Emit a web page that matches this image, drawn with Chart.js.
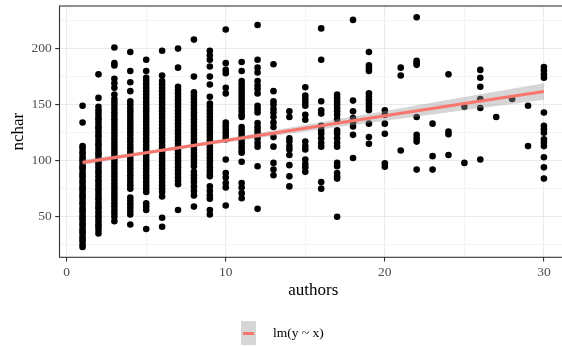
<!DOCTYPE html>
<html>
<head>
<meta charset="utf-8">
<script src="https://cdn.jsdelivr.net/npm/chart.js@4"></script>
<style>
  body { margin: 0; overflow: hidden; background: #fff; }
  #wrap { position: relative; width: 580px; height: 347px; }
  #legend { position: absolute; left: 241px; top: 321px; font-family: "Liberation Serif", serif; font-size: 13.5px; }
  #legend .key { position: absolute; left: 0; top: 0; width: 15px; height: 24px; background: #d6d6d6; }
  #legend .key span { position: absolute; left: 2px; top: 10.5px; width: 11px; height: 3px; background: #F8766D; }
  #legend .txt { position: absolute; left: 32px; top: 4px; white-space: nowrap; }
</style>
</head>
<body>
<div id="wrap">
  <canvas id="chart"></canvas>
  <div id="legend"><div class="key"><span></span></div><div class="txt">lm(y ~ x)</div></div>
</div>
<script>
// nombre d'auteurs (axe x)
const authors = [1, 2, 3, 4, 5, 6, 7, 8, 9, 10, 11, 12, 13, 14, 15, 16, 17, 18, 19, 20, 21, 22, 23, 24, 25, 26, 27, 28, 29, 30];

// nchar, une liste par nombre d'auteurs
const n01 = [149, 134, 113, 111, 108, 106, 103, 101, 99, 96, 94, 92, 89, 87, 85, 82, 80, 77, 75, 73, 70, 68, 66, 63, 61, 58, 56, 54, 51, 49, 47, 44, 42, 39, 37, 35, 32, 30, 28, 25, 23];
const n02 = [177, 156, 148, 145, 142, 139, 137, 134, 131, 129, 126, 123, 121, 118, 115, 113, 110, 107, 105, 102, 99, 97, 94, 91, 89, 86, 83, 81, 78, 75, 73, 70, 67, 65, 62, 59, 57, 54, 51, 49, 46, 43, 41, 38, 35];
const n03 = [201, 187, 185, 173, 169, 165, 159, 155, 152, 149, 146, 143, 140, 137, 134, 131, 128, 125, 122, 119, 116, 113, 110, 107, 104, 101, 98, 95, 92, 89, 86, 83, 80, 77, 74, 71, 68, 65, 62, 59, 56, 53, 50, 46];
const n04 = [197, 180, 170, 162, 153, 150, 147, 144, 141, 138, 135, 132, 129, 126, 123, 120, 117, 114, 111, 108, 105, 102, 99, 96, 93, 90, 87, 84, 81, 78, 75, 67, 64, 61, 58, 55, 52, 43];
const n05 = [190, 180, 174, 171, 168, 165, 162, 159, 156, 153, 150, 147, 144, 141, 138, 135, 132, 129, 126, 123, 120, 117, 114, 111, 108, 105, 102, 99, 96, 93, 90, 87, 84, 81, 78, 75, 72, 62, 59, 56, 39];
const n06 = [198, 176, 171, 168, 165, 162, 159, 156, 153, 150, 147, 144, 141, 138, 135, 132, 129, 126, 123, 120, 117, 114, 111, 108, 105, 102, 99, 96, 93, 90, 87, 84, 81, 78, 75, 72, 68, 49, 41];
const n07 = [200, 183, 166, 163, 160, 157, 154, 151, 148, 145, 142, 139, 136, 133, 130, 127, 124, 121, 118, 115, 112, 109, 106, 103, 100, 97, 94, 91, 88, 85, 82, 79, 56];
const n08 = [208, 175, 161, 158, 155, 152, 149, 146, 143, 140, 137, 134, 131, 128, 125, 122, 119, 116, 113, 110, 107, 104, 101, 98, 95, 90, 87, 84, 81, 77, 73, 69, 59];
const n09 = [198, 194, 190, 184, 175, 168, 157, 151, 148, 145, 142, 139, 136, 133, 130, 127, 124, 121, 118, 115, 112, 109, 106, 103, 100, 97, 94, 91, 88, 86, 77, 73, 69, 66, 56, 52];
const n10 = [217, 187, 181, 178, 165, 160, 134, 131, 128, 125, 122, 119, 101, 89, 85, 80, 76, 60];
const n11 = [188, 180, 171, 168, 165, 162, 159, 156, 153, 150, 147, 144, 141, 139, 130, 127, 124, 121, 118, 115, 112, 109, 107, 99, 80, 76, 71, 66.5];
const n12 = [221, 190, 183, 178.6, 171, 167, 164, 160, 149, 146, 143, 133.5, 130, 127, 124, 120, 116, 112.5, 95, 57];
const n13 = [186, 162, 153, 150, 146, 143, 139, 134, 130, 121, 112.5, 98, 92, 87];
const n14 = [144, 139, 120, 117, 113, 110, 105, 96, 86, 77];
const n15 = [165.5, 158, 155, 152, 149, 141, 136.5, 117, 113, 110, 101, 97, 94, 90];
const n16 = [218, 190, 153, 145, 142, 131, 127, 124, 120, 116, 112.5, 81, 75];
const n17 = [159, 156, 153, 150, 147, 144, 141, 137, 127, 124, 120, 116, 112.5, 98, 95, 89, 86, 84, 50];
const n18 = [225.6, 153.6, 144, 138, 134, 130.5, 123, 102.4];
const n19 = [197, 185, 182, 180, 160, 157, 154, 151, 148, 145, 133, 121, 115];
const n20 = [145, 141, 133, 124, 97.7, 94.6];
const n21 = [183, 176, 109];
const n22 = [228, 189, 187, 185.5, 139, 123, 120, 117, 92];
const n23 = [133, 104, 92];
const n24 = [177, 126, 123.5, 105];
const n25 = [148, 98];
const n26 = [181, 174, 166, 155, 147, 101];
const n27 = [139];
const n28 = [155];
const n29 = [149, 113];
const n30 = [183.6, 180.5, 177, 174, 143, 131, 128, 125, 119, 116, 113, 103, 94, 84];
const columns = [n01, n02, n03, n04, n05, n06, n07, n08, n09, n10, n11, n12, n13, n14, n15,
                 n16, n17, n18, n19, n20, n21, n22, n23, n24, n25, n26, n27, n28, n29, n30];

// droite lm(y ~ x) et bande de confiance
const fitX = [1, 5, 10, 15, 20, 25, 30];
const fitY = [98.4, 107.1, 118.0, 129.0, 140.0, 150.9, 161.7];
const fitUpper = [100.7, 108.6, 119.8, 131.9, 144.3, 156.8, 169.1];
const fitLower = [96.1, 105.6, 116.2, 126.1, 135.7, 145.0, 154.3];

// graduations
const xTicks = [0, 5, 10, 15, 20, 25, 30];
const yTicks = [25, 50, 75, 100, 125, 150, 175, 200, 225];

const points = [];
columns.forEach((ys, i) => {
    ys.forEach(y => points.push({ x: authors[i], y: y }));
});
const toXY = ys => fitX.map((x, i) => ({ x: x, y: ys[i] }));

const serif = "'Liberation Serif', 'Times New Roman', serif";

// pas de marge automatique autour des axes
function noPadding(s) {
    s.paddingTop = 0;
    s.paddingBottom = 0;
    s.paddingLeft = 0;
    s.paddingRight = 0;
}

// cadre du panneau, dessiné par-dessus les données comme ggplot
const panelBorder = {
    id: 'panelBorder',
    afterDatasetsDraw(chart) {
        const a = chart.chartArea;
        const ctx = chart.ctx;
        ctx.save();
        ctx.strokeStyle = '#333333';
        ctx.lineWidth = 1.1;
        ctx.strokeRect(a.left, a.top, a.right - a.left, a.bottom - a.top);
        ctx.restore();
    }
};

const ctx = document.getElementById("chart").getContext("2d");
new Chart(ctx, {
    type: "scatter",
    data: {
        datasets: [
            {
                label: "fit",
                type: "line",
                data: toXY(fitY),
                borderColor: "#F8766D",
                borderWidth: 3,
                pointRadius: 0,
                fill: false,
                order: 0
            },
            {
                label: "upper",
                type: "line",
                data: toXY(fitUpper),
                borderWidth: 0,
                borderColor: "rgba(0,0,0,0)",
                pointRadius: 0,
                backgroundColor: "rgba(153,153,153,0.4)",
                fill: "+1",
                order: 1
            },
            {
                label: "lower",
                type: "line",
                data: toXY(fitLower),
                borderWidth: 0,
                borderColor: "rgba(0,0,0,0)",
                pointRadius: 0,
                fill: false,
                order: 1
            },
            {
                label: "points",
                data: points,
                backgroundColor: "#000000",
                borderWidth: 0,
                pointRadius: 3.3,
                order: 2
            }
        ]
    },
    options: {
        responsive: true,
        maintainAspectRatio: false,
        animation: false,
        layout: { padding: { top: 6, left: 0, right: 13, bottom: 44.7 } },
        plugins: {
            legend: { display: false },
            tooltip: { enabled: false }
        },
        scales: {
            x: {
                type: "linear",
                min: -0.45,
                max: 31.45,
                afterFit: s => { s.height = 45; noPadding(s); },
                afterBuildTicks: s => { s.ticks = xTicks.map(v => ({ value: v })); },
                grid: {
                    color: c => (c.tick && c.tick.value % 10 === 0) ? "#ebebeb" : "#f4f4f4",
                    lineWidth: 1.1,
                    tickLength: 4.3,
                    tickColor: c => (c.tick && c.tick.value % 10 === 0) ? "#333333" : "rgba(0,0,0,0)",
                    tickWidth: 1.1
                },
                border: { display: false },
                ticks: {
                    autoSkip: false,
                    maxRotation: 0,
                    padding: 3,
                    color: "#4d4d4d",
                    font: { family: serif, size: 13.5 },
                    callback: v => (v % 10 === 0 ? String(v) : "")
                },
                title: {
                    display: true,
                    text: "authors",
                    color: "#000000",
                    font: { family: serif, size: 17 },
                    padding: { top: 0, bottom: 2 }
                }
            },
            y: {
                min: 13.75,
                max: 238,
                afterFit: s => { s.width = 59.5; noPadding(s); },
                afterBuildTicks: s => { s.ticks = yTicks.map(v => ({ value: v })); },
                grid: {
                    color: c => (c.tick && c.tick.value % 50 === 0) ? "#ebebeb" : "#f4f4f4",
                    lineWidth: 1.1,
                    tickLength: 4.3,
                    tickColor: c => (c.tick && c.tick.value % 50 === 0) ? "#333333" : "rgba(0,0,0,0)",
                    tickWidth: 1.1
                },
                border: { display: false },
                ticks: {
                    autoSkip: false,
                    padding: 3.4,
                    color: "#4d4d4d",
                    font: { family: serif, size: 13.5 },
                    callback: v => (v % 50 === 0 ? String(v) : "")
                },
                title: {
                    display: true,
                    text: "nchar",
                    color: "#000000",
                    font: { family: serif, size: 17 },
                    padding: { top: 8, bottom: 0 }
                }
            }
        }
    },
    plugins: [panelBorder]
});
</script>
</body>
</html>
